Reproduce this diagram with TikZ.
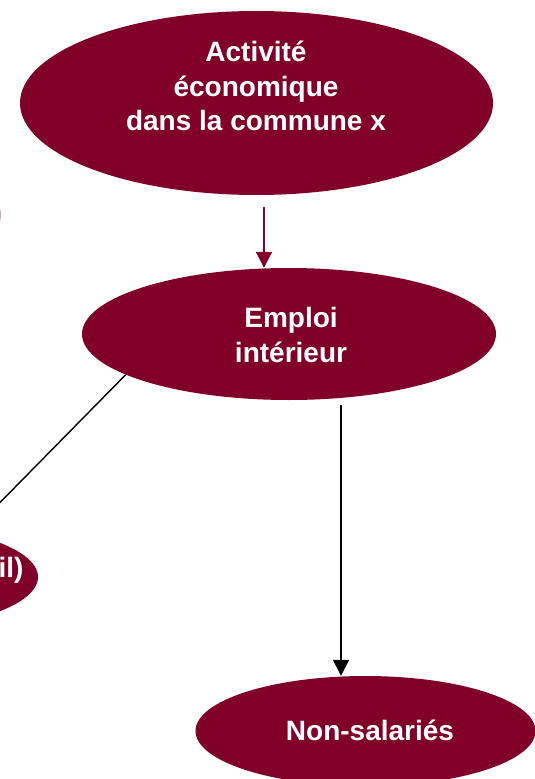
\documentclass[tikz,border=0pt]{standalone}
\usepackage{fontspec}
\setmainfont{Liberation Sans}
\usetikzlibrary{shapes.geometric,arrows.meta}
\definecolor{wine}{RGB}{128,0,42}
\begin{document}
\begin{tikzpicture}[x=1pt,y=-1pt]
  \useasboundingbox (0,0) rectangle (535,779);
  \begin{scope}[every node/.style={ellipse,fill=wine,inner sep=0pt}]
  \node[minimum width=340.8,minimum height=200] (res) at (-170,215) {};
  \node[minimum width=473,minimum height=184] (act) at (256.5,103) {};
  \node[minimum width=414,minimum height=132] (emp) at (289,334) {};
  \node[minimum width=350,minimum height=110] (sal) at (-137,577) {};
  \node[minimum width=340,minimum height=110] (non) at (365.5,731) {};
  \end{scope}
  \begin{scope}[every node/.style={text=white,align=center,font=\fontsize{28}{34.5}\selectfont\bfseries}]
  \node (act-t) at (256,86) {Activité\\économique\\dans la commune x};
  \node (emp-t) at (291,335) {Emploi\\intérieur};
  \node[anchor=base east] (sal-t) at (27,577) {il)};
  \node (non-t) at (370,730) {Non-salariés};
  \end{scope}
  \coordinate (a0) at (264,207);
  \coordinate (b0) at (341,405);
  \coordinate (l0) at (-30,533);
  \begin{scope}[every edge/.style={draw=black,line width=1.4pt}]
  \path (a0) edge[draw=wine,line width=2pt,-{Triangle[width=16pt,length=16pt]}] (a0 |- emp.north);
  \path (b0) edge[-{Triangle[width=16pt,length=16pt]}] (b0 |- non.north);
  \path (emp.194.5) edge (l0);
  \end{scope}
\end{tikzpicture}
\end{document}
